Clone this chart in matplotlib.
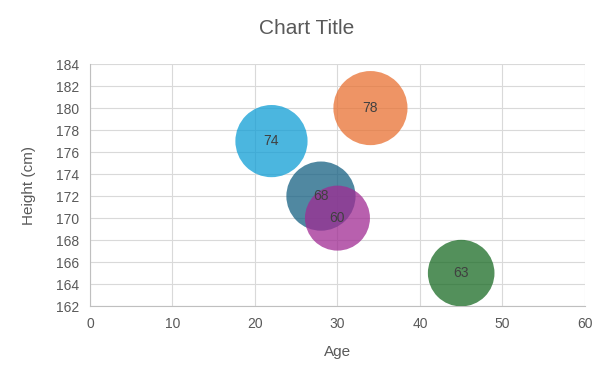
import matplotlib
matplotlib.use('Agg')
import matplotlib.pyplot as plt

plt.rcParams['font.family'] = ['Liberation Sans', 'DejaVu Sans']

# data
ages = [28, 34, 45, 22, 30]
heights = [172, 180, 165, 177, 170]
weights = [68, 78, 63, 74, 60]
colors = ['#156082', '#E97132', '#196B24', '#0F9ED5', '#A02B93']

fig = plt.figure(figsize=(6.14, 3.77), dpi=100)
ax = fig.add_axes([0.1466, 0.188, 0.806, 0.642])

ax.scatter(ages, heights, s=[w * 36.5 for w in weights], c=colors,
           alpha=0.75, linewidths=0, zorder=3)
for a, h, w in zip(ages, heights, weights):
    ax.text(a, h, str(w), ha='center', va='center', fontsize=10,
            color='#404040', zorder=4)

ax.set_xlim(0, 60)
ax.set_ylim(162, 184)
ax.set_xticks(range(0, 61, 10))
ax.set_yticks(range(162, 185, 2))
ax.grid(True, color='#D9D9D9', linewidth=0.8, zorder=0)
ax.set_axisbelow(True)
for s in ['top', 'right']:
    ax.spines[s].set_visible(False)
for s in ['left', 'bottom']:
    ax.spines[s].set_color('#BFBFBF')
    ax.spines[s].set_linewidth(0.8)
ax.tick_params(length=0, labelsize=10, labelcolor='#595959', pad=8)

ax.set_xlabel('Age', fontsize=11, color='#595959', labelpad=10)
ax.set_ylabel('Height (cm)', fontsize=11, color='#595959', labelpad=14)
fig.suptitle('Chart Title', fontsize=15, color='#595959', y=0.95)

fig.savefig('out.png', dpi=100)
